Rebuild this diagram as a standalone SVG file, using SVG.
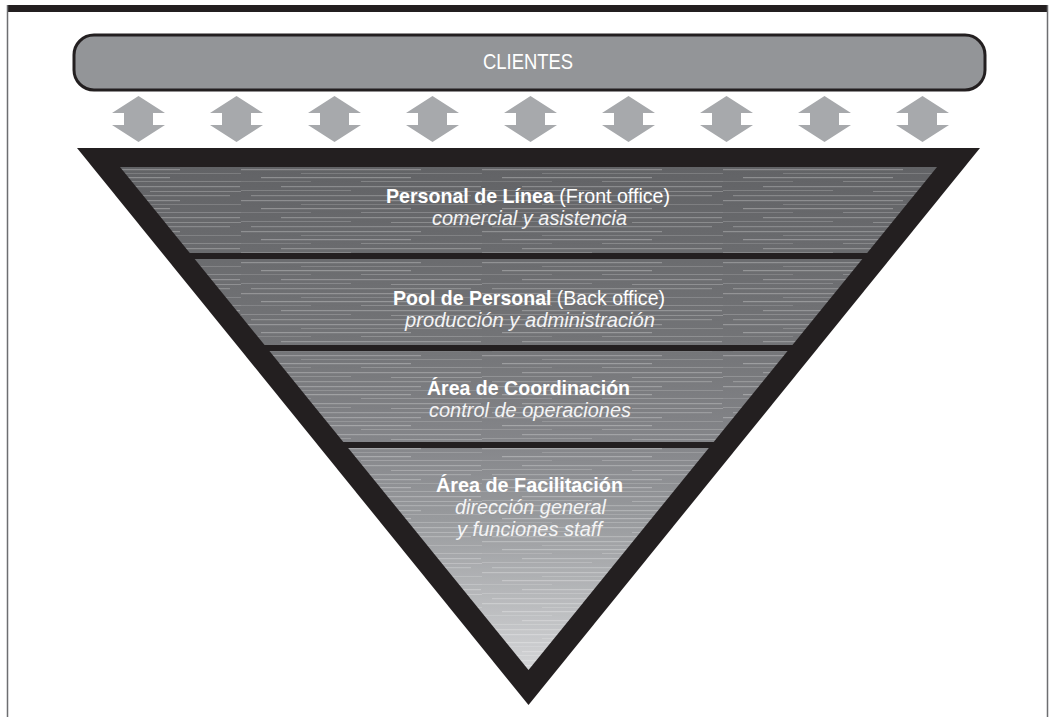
<svg xmlns="http://www.w3.org/2000/svg" width="1054" height="717" viewBox="0 0 1054 717">
  <style>
    .blk { fill: #231f20; }
    .arrow { fill: #a7a9ac; }
    .t { font-family: "Liberation Sans Narrow", "Liberation Sans", Arial, sans-serif; fill: #ffffff; text-anchor: middle; font-size: 21px; }
    .b { font-weight: bold; }
    .i { font-style: italic; fill: #f4f4f5; }
    .cl { font-family: "Liberation Sans Narrow", "Liberation Sans", Arial, sans-serif; fill: #ffffff; text-anchor: middle; font-size: 22.5px; }
  </style>
  <defs>
    <linearGradient id="grad" gradientUnits="userSpaceOnUse" x1="0" y1="167" x2="0" y2="670">
      <stop offset="0" stop-color="#626366"/>
      <stop offset="0.35" stop-color="#737477"/>
      <stop offset="0.55" stop-color="#85868a"/>
      <stop offset="0.7" stop-color="#989a9d"/>
      <stop offset="1" stop-color="#d4d5d7"/>
    </linearGradient>
    <pattern id="streaks" patternUnits="userSpaceOnUse" x="0" y="167" width="241" height="31">
      <rect x="0" y="2" width="180" height="1.2" fill="#ffffff" opacity="0.26"/>
      <rect x="60" y="6" width="181" height="1" fill="#ffffff" opacity="0.16"/>
      <rect x="20" y="10" width="150" height="1.2" fill="#ffffff" opacity="0.28"/>
      <rect x="120" y="14" width="121" height="1" fill="#ffffff" opacity="0.2"/>
      <rect x="0" y="14" width="70" height="1" fill="#ffffff" opacity="0.14"/>
      <rect x="40" y="19" width="200" height="1.2" fill="#ffffff" opacity="0.25"/>
      <rect x="0" y="23" width="110" height="1" fill="#ffffff" opacity="0.18"/>
      <rect x="150" y="24" width="91" height="1" fill="#ffffff" opacity="0.23"/>
      <rect x="10" y="28" width="220" height="1.2" fill="#ffffff" opacity="0.22"/>
    </pattern>
    <path id="arr" d="M0,96 L26.5,113 L14.5,113 L14.5,125 L26.5,125 L0,142 L-26.5,125 L-14.5,125 L-14.5,113 L-26.5,113 Z"/>
  </defs>

  <!-- frame -->
  <rect x="7" y="5" width="1041" height="7" class="blk"/>
  <line x1="7.5" y1="5" x2="7.5" y2="717" stroke="#6d6e71" stroke-width="1.5"/>
  <line x1="1047.5" y1="5" x2="1047.5" y2="717" stroke="#6d6e71" stroke-width="1.5"/>

  <g id="clientes">
    <rect x="74" y="35" width="911" height="55" rx="20" ry="20" fill="#939598" stroke="#231f20" stroke-width="3"/>
    <text class="cl" x="528" y="69" textLength="90" lengthAdjust="spacingAndGlyphs">CLIENTES</text>
  </g>

  <g id="connectors">
    <use href="#arr" class="arrow" transform="translate(138.5,0)"/>
    <use href="#arr" class="arrow" transform="translate(236.5,0)"/>
    <use href="#arr" class="arrow" transform="translate(334.5,0)"/>
    <use href="#arr" class="arrow" transform="translate(432.5,0)"/>
    <use href="#arr" class="arrow" transform="translate(530.5,0)"/>
    <use href="#arr" class="arrow" transform="translate(628.5,0)"/>
    <use href="#arr" class="arrow" transform="translate(726.5,0)"/>
    <use href="#arr" class="arrow" transform="translate(824.5,0)"/>
    <use href="#arr" class="arrow" transform="translate(922.5,0)"/>
  </g>

  <g id="pyramid">
    <polygon class="blk" points="77,148 980,148 528.5,705"/>
  </g>

  <g id="layer-front-office">
    <polygon points="120,167 937,167 867.16,253 189.84,253" fill="url(#grad)"/>
    <polygon points="120,167 937,167 867.16,253 189.84,253" fill="url(#streaks)"/>
    <text class="t" x="528" y="203" textLength="284" lengthAdjust="spacingAndGlyphs"><tspan class="b">Personal de Línea</tspan> (Front office)</text>
    <text class="t i" x="529.5" y="225" textLength="195" lengthAdjust="spacingAndGlyphs">comercial y asistencia</text>
  </g>

  <g id="layer-back-office">
    <polygon points="194.71,259 862.29,259 792.45,345 264.55,345" fill="url(#grad)"/>
    <polygon points="194.71,259 862.29,259 792.45,345 264.55,345" fill="url(#streaks)"/>
    <text class="t" x="529" y="305" textLength="272" lengthAdjust="spacingAndGlyphs"><tspan class="b">Pool de Personal</tspan> (Back office)</text>
    <text class="t i" x="530" y="327" textLength="250" lengthAdjust="spacingAndGlyphs">producción y administración</text>
  </g>

  <g id="layer-coordinacion">
    <polygon points="269.43,351 787.57,351 713.67,442 343.33,442" fill="url(#grad)"/>
    <polygon points="269.43,351 787.57,351 713.67,442 343.33,442" fill="url(#streaks)"/>
    <text class="t b" x="528.5" y="395" textLength="203" lengthAdjust="spacingAndGlyphs">Área de Coordinación</text>
    <text class="t i" x="530" y="417" textLength="202" lengthAdjust="spacingAndGlyphs">control de operaciones</text>
  </g>

  <g id="layer-facilitacion">
    <polygon points="348.2,448 708.8,448 528.5,670" fill="url(#grad)"/>
    <polygon points="348.2,448 708.8,448 528.5,670" fill="url(#streaks)"/>
    <text class="t b" x="529.5" y="492" textLength="187" lengthAdjust="spacingAndGlyphs">Área de Facilitación</text>
    <text class="t i" x="530.5" y="514" textLength="151" lengthAdjust="spacingAndGlyphs">dirección general</text>
    <text class="t i" x="529.5" y="536" textLength="145" lengthAdjust="spacingAndGlyphs">y funciones staff</text>
  </g>
</svg>
